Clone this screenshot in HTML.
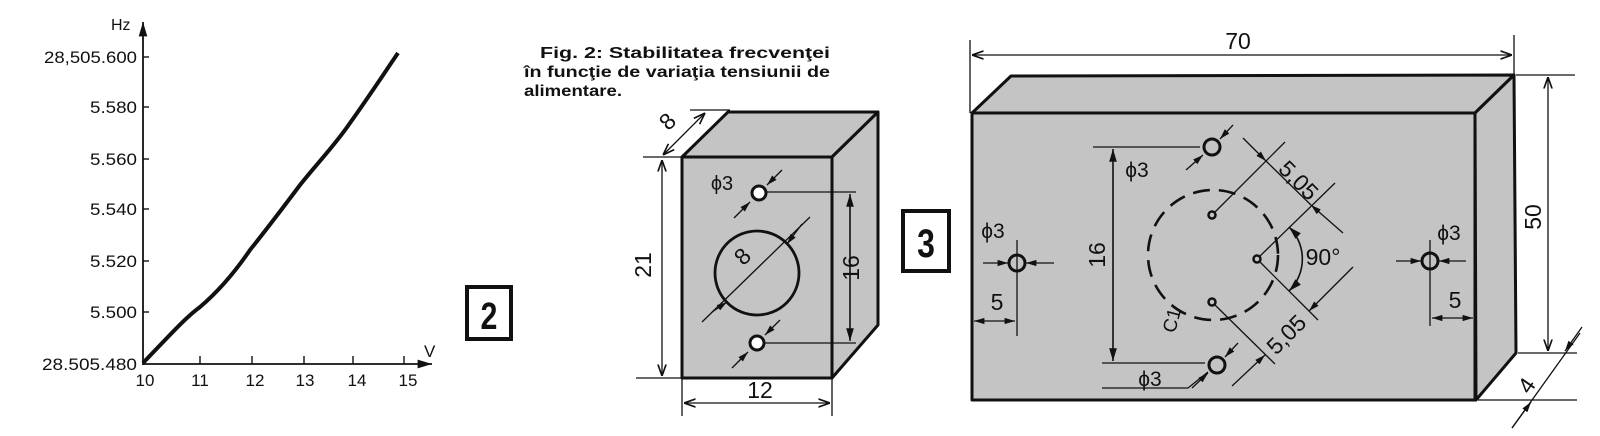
<!DOCTYPE html>
<html><head><meta charset="utf-8"><style>
html,body{margin:0;padding:0;background:#fff;}
svg{display:block;}
text{font-family:"Liberation Sans",sans-serif;fill:#111;}
.d{font-size:23px;}
</style></head><body>
<svg width="1600" height="436" viewBox="0 0 1600 436" xmlns="http://www.w3.org/2000/svg">
<defs>
<marker id="a" viewBox="0 0 10 10" refX="10" refY="5" markerWidth="9" markerHeight="9" orient="auto-start-reverse"><path d="M0,1.5 L10,5 L0,8.5" fill="none" stroke="#111" stroke-width="1.4"/></marker>
<marker id="f" viewBox="0 0 10 10" refX="10" refY="5" markerWidth="8" markerHeight="8" orient="auto-start-reverse"><path d="M0,2 L10,5 L0,8 Z" fill="#111"/></marker>
</defs>

<!-- GRAPH -->
<g stroke="#111" fill="none">
<line x1="143" y1="365" x2="143" y2="22" stroke-width="1.8" marker-end="url(#f)"/>
<line x1="143" y1="364" x2="432" y2="364" stroke-width="1.8" marker-end="url(#f)"/>
<g stroke-width="1.4">
<line x1="143" y1="57" x2="149" y2="57"/><line x1="143" y1="107" x2="149" y2="107"/>
<line x1="143" y1="159" x2="149" y2="159"/><line x1="143" y1="209" x2="149" y2="209"/>
<line x1="143" y1="261" x2="149" y2="261"/><line x1="143" y1="312" x2="149" y2="312"/>
<line x1="200" y1="364" x2="200" y2="356"/><line x1="252" y1="364" x2="252" y2="356"/>
<line x1="304" y1="364" x2="304" y2="356"/><line x1="353" y1="364" x2="353" y2="356"/>
<line x1="404" y1="364" x2="404" y2="356"/>
</g>
<path d="M143,363 C170,335 185,318 200,307 C220,290 235,272 250,250 C270,225 285,205 300,185 C320,160 335,145 350,123 C370,95 385,72 398,53" stroke-width="4"/>
</g>
<g font-size="17" text-anchor="end">
<text x="137" y="63" textLength="93" lengthAdjust="spacingAndGlyphs">28,505.600</text>
<text x="137" y="113" textLength="47" lengthAdjust="spacingAndGlyphs">5.580</text>
<text x="137" y="165" textLength="47" lengthAdjust="spacingAndGlyphs">5.560</text>
<text x="137" y="215" textLength="47" lengthAdjust="spacingAndGlyphs">5.540</text>
<text x="137" y="267" textLength="47" lengthAdjust="spacingAndGlyphs">5.520</text>
<text x="137" y="318" textLength="47" lengthAdjust="spacingAndGlyphs">5.500</text>
<text x="137" y="370" textLength="95" lengthAdjust="spacingAndGlyphs">28.505.480</text>
</g>
<text x="111" y="30" font-size="16">Hz</text>
<g font-size="17" text-anchor="middle">
<text x="145" y="386">10</text><text x="200" y="386">11</text><text x="255" y="386">12</text>
<text x="305" y="386">13</text><text x="357" y="386">14</text><text x="408" y="386">15</text>
</g>
<text x="424" y="357" font-size="17">V</text>
<rect x="467" y="287" width="44" height="52" fill="none" stroke="#111" stroke-width="4"/>
<text x="489" y="329" font-size="38" font-weight="bold" text-anchor="middle" transform="translate(489 0) scale(0.8 1) translate(-489 0)">2</text>

<!-- caption -->
<g font-size="16" font-weight="bold">
<text x="540" y="58" textLength="290" lengthAdjust="spacingAndGlyphs">Fig. 2: Stabilitatea  frecvenţei</text>
<text x="524" y="77" textLength="306" lengthAdjust="spacingAndGlyphs">în funcţie de variaţia tensiunii de</text>
<text x="524" y="96" textLength="98" lengthAdjust="spacingAndGlyphs">alimentare.</text>
</g>

<!-- SMALL BLOCK -->
<g stroke="#111" stroke-width="3" stroke-linejoin="round" fill="#c4c4c4">
<polygon points="682,157 728,112 878,112 832,157"/>
<polygon points="832,157 878,112 878,325 832,378"/>
<rect x="682" y="157" width="150" height="221"/>
</g>
<g stroke="#111" fill="none" stroke-width="1.3">
<line x1="690" y1="110" x2="730" y2="110"/><line x1="643" y1="157" x2="682" y2="157"/>
<line x1="663" y1="155" x2="705" y2="113" marker-start="url(#a)" marker-end="url(#a)"/>
<line x1="662" y1="160" x2="662" y2="376" marker-start="url(#a)" marker-end="url(#a)"/>
<line x1="636" y1="378" x2="682" y2="378"/>
<line x1="682" y1="378" x2="682" y2="416"/><line x1="832" y1="378" x2="832" y2="416"/>
<line x1="684" y1="403" x2="830" y2="403" marker-start="url(#a)" marker-end="url(#a)"/>
<line x1="765" y1="192" x2="856" y2="192"/><line x1="764" y1="343" x2="856" y2="343"/>
<line x1="850" y1="194" x2="850" y2="341" stroke-width="1.6" marker-start="url(#f)" marker-end="url(#f)"/>
<circle cx="759" cy="193" r="7" stroke-width="3" fill="#fff"/>
<circle cx="757" cy="343" r="7" stroke-width="3" fill="#fff"/>
<line x1="734" y1="218" x2="750" y2="202" marker-end="url(#f)"/><line x1="782" y1="170" x2="767" y2="185" marker-end="url(#f)"/>
<line x1="732" y1="368" x2="748" y2="352" marker-end="url(#f)"/><line x1="780" y1="320" x2="765" y2="335" marker-end="url(#f)"/>
<circle cx="757" cy="273" r="42" stroke-width="2.8"/>
<line x1="702" y1="322" x2="810" y2="217"/>
<line x1="712" y1="312" x2="727" y2="302" marker-end="url(#f)"/>
<line x1="802" y1="224" x2="787" y2="244" marker-end="url(#f)"/>
</g>
<text x="722" y="190" font-size="20" text-anchor="middle">ϕ3</text>
<text class="d" transform="translate(673 127) rotate(-45)" text-anchor="middle">8</text>
<text class="d" transform="translate(651 265) rotate(-90)" text-anchor="middle">21</text>
<text class="d" x="760" y="398" text-anchor="middle">12</text>
<text class="d" transform="translate(859 268) rotate(-90)" text-anchor="middle">16</text>
<text class="d" transform="translate(748 262) rotate(-45)" text-anchor="middle">8</text>
<rect x="903" y="211" width="46" height="60" fill="none" stroke="#111" stroke-width="4"/>
<text x="926" y="257" font-size="40" font-weight="bold" text-anchor="middle" transform="translate(926 0) scale(0.8 1) translate(-926 0)">3</text>

<!-- LARGE BLOCK -->
<g stroke="#111" stroke-width="3" stroke-linejoin="round" fill="#c4c4c4">
<polygon points="972,113 1011,76 1514,75 1475,113"/>
<polygon points="1475,113 1514,75 1516,353 1476,400"/>
<rect x="972" y="113" width="503" height="287"/>
</g>
<g stroke="#111" fill="none" stroke-width="1.3">
<line x1="970" y1="40" x2="970" y2="113"/><line x1="1514" y1="35" x2="1514" y2="75"/>
<line x1="972" y1="55" x2="1512" y2="55" marker-start="url(#a)" marker-end="url(#a)"/>
<line x1="1516" y1="75" x2="1575" y2="75"/><line x1="1518" y1="353" x2="1577" y2="353"/>
<line x1="1478" y1="400" x2="1577" y2="400"/>
<line x1="1548" y1="77" x2="1548" y2="351" marker-start="url(#a)" marker-end="url(#a)"/>
<line x1="1580" y1="333" x2="1512" y2="428"/>
<line x1="1582" y1="327" x2="1565" y2="351" marker-end="url(#f)"/>
<line x1="1512" y1="428" x2="1531" y2="402" marker-end="url(#f)"/>
<line x1="1093" y1="147" x2="1200" y2="147"/>
<line x1="1102" y1="363" x2="1205" y2="363"/>
<polyline points="1102,388 1188,388 1208,372"/>
<line x1="1113" y1="149" x2="1113" y2="361" stroke-width="1.6" marker-start="url(#f)" marker-end="url(#f)"/>
<circle cx="1212" cy="147" r="8" stroke-width="3" fill="#c4c4c4"/>
<circle cx="1217" cy="365" r="8" stroke-width="3" fill="#c4c4c4"/>
<line x1="1186" y1="170" x2="1203" y2="155" marker-end="url(#f)"/><line x1="1233" y1="125" x2="1220" y2="139" marker-end="url(#f)"/>
<line x1="1192" y1="388" x2="1208" y2="373" marker-end="url(#f)"/><line x1="1238" y1="343" x2="1225" y2="357" marker-end="url(#f)"/>
<circle cx="1017" cy="263" r="8" stroke-width="3"/>
<line x1="1017" y1="240" x2="1017" y2="336"/>
<line x1="983" y1="263" x2="1008" y2="263" marker-end="url(#f)"/><line x1="1054" y1="263" x2="1026" y2="263" marker-end="url(#f)"/>
<line x1="974" y1="321" x2="1015" y2="321" marker-start="url(#f)" marker-end="url(#f)"/>
<circle cx="1430" cy="261" r="8" stroke-width="3"/>
<line x1="1430" y1="240" x2="1430" y2="326"/>
<line x1="1396" y1="261" x2="1421" y2="261" marker-end="url(#f)"/><line x1="1466" y1="261" x2="1439" y2="261" marker-end="url(#f)"/>
<line x1="1432" y1="318" x2="1473" y2="318" marker-start="url(#f)" marker-end="url(#f)"/>
<circle cx="1213" cy="255" r="65" stroke-width="2.6" stroke-dasharray="17 9"/>
<circle cx="1212" cy="215" r="3.5" stroke-width="2.5"/>
<circle cx="1257" cy="259" r="3.5" stroke-width="2.5"/>
<circle cx="1212" cy="302" r="3.5" stroke-width="2.5"/>
<line x1="1215" y1="212" x2="1285" y2="142"/>
<line x1="1260" y1="256" x2="1335" y2="183"/>
<line x1="1260" y1="262" x2="1318" y2="320"/>
<line x1="1215" y1="305" x2="1275" y2="364"/>
<line x1="1243" y1="138" x2="1266" y2="161" marker-end="url(#f)"/>
<line x1="1343" y1="233" x2="1311" y2="205" marker-end="url(#f)"/>
<line x1="1266" y1="161" x2="1311" y2="205"/>
<line x1="1353" y1="267" x2="1309" y2="311" marker-end="url(#f)"/>
<line x1="1232" y1="386" x2="1265" y2="355" marker-end="url(#f)"/>
<path d="M1289,227 A45,45 0 0 1 1289,291" stroke-width="1.6" marker-start="url(#f)" marker-end="url(#f)"/>
</g>
<text class="d" x="1238" y="49" text-anchor="middle">70</text>
<text class="d" transform="translate(1541 217) rotate(-90)" text-anchor="middle">50</text>
<text class="d" transform="translate(1533 390) rotate(-55)" text-anchor="middle">4</text>
<text x="1137" y="177" font-size="21" text-anchor="middle">ϕ3</text>
<text x="1150" y="386" font-size="21" text-anchor="middle">ϕ3</text>
<text x="993" y="238" font-size="21" text-anchor="middle">ϕ3</text>
<text x="1449" y="240" font-size="21" text-anchor="middle">ϕ3</text>
<text class="d" transform="translate(1105 255) rotate(-90)" text-anchor="middle">16</text>
<text class="d" x="997" y="310" text-anchor="middle">5</text>
<text class="d" x="1455" y="308" text-anchor="middle">5</text>
<text class="d" transform="translate(1293 186) rotate(45)" text-anchor="middle">5,05</text>
<text class="d" transform="translate(1292 340) rotate(-45)" text-anchor="middle">5,05</text>
<text class="d" x="1323" y="265" text-anchor="middle">90°</text>
<text font-size="19" transform="translate(1178 322) rotate(-75)" text-anchor="middle">C1</text>
</svg>
</body></html>
